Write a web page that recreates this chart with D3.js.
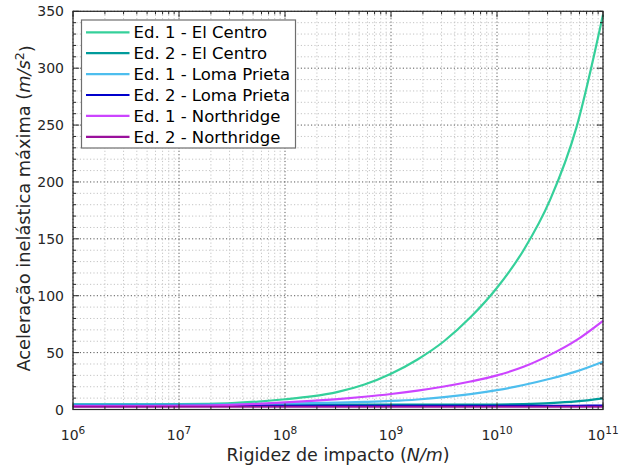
<!DOCTYPE html>
<html>
<head>
<meta charset="utf-8">
<script src="https://cdn.jsdelivr.net/npm/d3@7"></script>
<style>
  html, body { margin: 0; padding: 0; background: #fff; }
  svg { display: block; font-family: "DejaVu Sans", Verdana, sans-serif; }
</style>
</head>
<body>
<svg id="chart" width="620" height="465"></svg>
<script>
// Rigidez de impacto (N/m)
const rigidez = [1e6, 3.16e6, 1e7, 1.78e7, 3.16e7, 5.62e7, 1e8, 1.78e8, 3.16e8, 5.62e8,
                 1e9, 1.78e9, 3.16e9, 5.62e9, 1e10, 1.78e10, 3.16e10, 5.62e10, 1e11];

// Aceleração inelástica máxima (m/s²) por edifício e sismo
const ed1ElCentro   = [4.6, 4.6, 4.7, 5.0, 5.6, 7.0, 9.0, 11.5, 15.5, 22, 31.5, 44, 60, 81, 107, 140, 184, 248, 347];
const ed2ElCentro   = [4.2, 4.2, 4.2, 4.2, 4.2, 4.2, 4.2, 4.2, 4.2, 4.2, 4.2, 4.2, 4.2, 4.25, 4.4, 4.8, 5.6, 7.1, 9.8];
const ed1LomaPrieta = [4.2, 4.2, 4.3, 4.4, 4.6, 4.9, 5.2, 5.6, 6.1, 6.7, 7.5, 8.8, 10.8, 13.5, 17, 21.5, 27, 33.5, 42];
const ed2LomaPrieta = [3.2, 3.2, 3.2, 3.2, 3.2, 3.2, 3.2, 3.2, 3.2, 3.2, 3.2, 3.2, 3.2, 3.2, 3.2, 3.2, 3.3, 3.3, 3.4];
const ed1Northridge = [3.0, 3.0, 3.2, 3.5, 4.1, 5.0, 6.2, 7.6, 9.2, 11.2, 13.6, 16.6, 20.2, 24.6, 30, 37.5, 48, 61, 78];
const ed2Northridge = [2.4, 2.4, 2.4, 2.4, 2.4, 2.4, 2.4, 2.4, 2.4, 2.4, 2.4, 2.4, 2.4, 2.4, 2.4, 2.4, 2.4, 2.4, 2.4];

const seriesNames  = ["Ed. 1 - El Centro", "Ed. 2 - El Centro", "Ed. 1 - Loma Prieta",
                      "Ed. 2 - Loma Prieta", "Ed. 1 - Northridge", "Ed. 2 - Northridge"];
const seriesValues = [ed1ElCentro, ed2ElCentro, ed1LomaPrieta, ed2LomaPrieta, ed1Northridge, ed2Northridge];
const seriesColors = ["#35d09a", "#009b9b", "#4dbeee", "#0000cc", "#cc44ff", "#9a109c"];

const xTickExponents = [6, 7, 8, 9, 10, 11];
const yTickLabels = [0, 50, 100, 150, 200, 250, 300, 350];

const svg = d3.select("#chart");
const pL = 73, pR = 603, pT = 11.3, pB = 409.5;

const x = d3.scaleLog().domain([1e6, 1e11]).range([pL, pR]);
const y = d3.scaleLinear().domain([0, 350]).range([pB, pT]);

const axisColor = "#262626";

// Grid: minor first, then major
const grid = svg.append("g");
const minorX = x.ticks().filter(v => Math.abs(Math.log10(v) - Math.round(Math.log10(v))) > 1e-9);
const majorX = xTickExponents.map(e => Math.pow(10, e));
const minorY = d3.range(0, 351, 10).filter(v => v % 50 !== 0);

grid.selectAll(".mx").data(minorX).join("line")
  .attr("x1", d => x(d)).attr("x2", d => x(d)).attr("y1", pT).attr("y2", pB)
  .attr("stroke", "#c4c4c4").attr("stroke-width", 1).attr("stroke-dasharray", "1.2,2.2");
grid.selectAll(".my").data(minorY).join("line")
  .attr("x1", pL).attr("x2", pR).attr("y1", d => y(d)).attr("y2", d => y(d))
  .attr("stroke", "#c4c4c4").attr("stroke-width", 1).attr("stroke-dasharray", "1.2,2.2");
grid.selectAll(".Mx").data(majorX).join("line")
  .attr("x1", d => x(d)).attr("x2", d => x(d)).attr("y1", pT).attr("y2", pB)
  .attr("stroke", "#5a5a5a").attr("stroke-width", 1).attr("stroke-dasharray", "1.2,2.2");
grid.selectAll(".My").data(yTickLabels).join("line")
  .attr("x1", pL).attr("x2", pR).attr("y1", d => y(d)).attr("y2", d => y(d))
  .attr("stroke", "#5a5a5a").attr("stroke-width", 1).attr("stroke-dasharray", "1.2,2.2");

// Curves
const line = d3.line().x((d, i) => x(rigidez[i])).y(d => y(d)).curve(d3.curveMonotoneX);
const plot = svg.append("g");
seriesValues.forEach((vals, k) => {
  plot.append("path").datum(vals)
    .attr("d", line)
    .attr("fill", "none")
    .attr("stroke", seriesColors[k])
    .attr("stroke-width", 2.2)
    .attr("stroke-linejoin", "round");
});

// Ticks (inward, all four sides) and box
const ticks = svg.append("g").attr("stroke", axisColor).attr("stroke-width", 1);
const tickAt = (arr, len) => {
  arr.forEach(v => {
    ticks.append("line").attr("x1", x(v)).attr("x2", x(v)).attr("y1", pB).attr("y2", pB - len);
    ticks.append("line").attr("x1", x(v)).attr("x2", x(v)).attr("y1", pT).attr("y2", pT + len);
  });
};
tickAt(minorX, 3);
tickAt(majorX, 6);
minorY.forEach(v => {
  ticks.append("line").attr("x1", pL).attr("x2", pL + 3).attr("y1", y(v)).attr("y2", y(v));
  ticks.append("line").attr("x1", pR).attr("x2", pR - 3).attr("y1", y(v)).attr("y2", y(v));
});
yTickLabels.forEach(v => {
  ticks.append("line").attr("x1", pL).attr("x2", pL + 6).attr("y1", y(v)).attr("y2", y(v));
  ticks.append("line").attr("x1", pR).attr("x2", pR - 6).attr("y1", y(v)).attr("y2", y(v));
});
svg.append("rect").attr("x", pL).attr("y", pT)
  .attr("width", pR - pL).attr("height", pB - pT)
  .attr("fill", "none").attr("stroke", axisColor).attr("stroke-width", 1.2);

// Tick labels
const tickFont = 14;
svg.append("g").selectAll("text").data(yTickLabels).join("text")
  .attr("x", pL - 9).attr("y", d => y(d)).attr("dy", "0.36em")
  .attr("text-anchor", "end").attr("font-size", tickFont).attr("fill", axisColor)
  .text(d => d);

const xl = svg.append("g").selectAll("text").data(xTickExponents).join("text")
  .attr("x", e => x(Math.pow(10, e))).attr("y", 440)
  .attr("text-anchor", "middle").attr("font-size", tickFont).attr("fill", axisColor);
xl.append("tspan").text("10");
xl.append("tspan").attr("dy", "-0.55em").attr("font-size", tickFont * 0.75).text(e => e);

// Axis labels
const xLabel = svg.append("text")
  .attr("x", (pL + pR) / 2).attr("y", 461)
  .attr("text-anchor", "middle").attr("font-size", 17.5).attr("fill", axisColor);
xLabel.append("tspan").text("Rigidez de impacto (");
xLabel.append("tspan").attr("font-style", "italic").text("N/m");
xLabel.append("tspan").text(")");

const yLabel = svg.append("text")
  .attr("transform", `translate(30,${(pT + pB) / 2 - 2}) rotate(-90)`)
  .attr("text-anchor", "middle").attr("font-size", 17.8).attr("fill", axisColor);
yLabel.append("tspan").text("Aceleração inelástica máxima (");
yLabel.append("tspan").attr("font-style", "italic").text("m/s");
yLabel.append("tspan").attr("dy", "-0.5em").attr("font-size", 12.5).text("2");
yLabel.append("tspan").attr("dy", "0.5em").text(")");

// Legend
const lg = svg.append("g");
const lgX = 81.5, lgY = 20, lgW = 214, lgH = 128, rowH = 20.9;
lg.append("rect").attr("x", lgX).attr("y", lgY).attr("width", lgW).attr("height", lgH)
  .attr("fill", "#fff").attr("stroke", "#6e6e6e").attr("stroke-width", 1.2);
seriesNames.forEach((name, k) => {
  const cy = lgY + 12.3 + k * rowH;
  lg.append("line").attr("x1", lgX + 4.5).attr("x2", lgX + 48).attr("y1", cy).attr("y2", cy)
    .attr("stroke", seriesColors[k]).attr("stroke-width", 2.2);
  lg.append("text").attr("x", lgX + 52).attr("y", cy).attr("dy", "0.36em")
    .attr("font-size", 16.5).attr("fill", "#000").text(name);
});
</script>
</body>
</html>
